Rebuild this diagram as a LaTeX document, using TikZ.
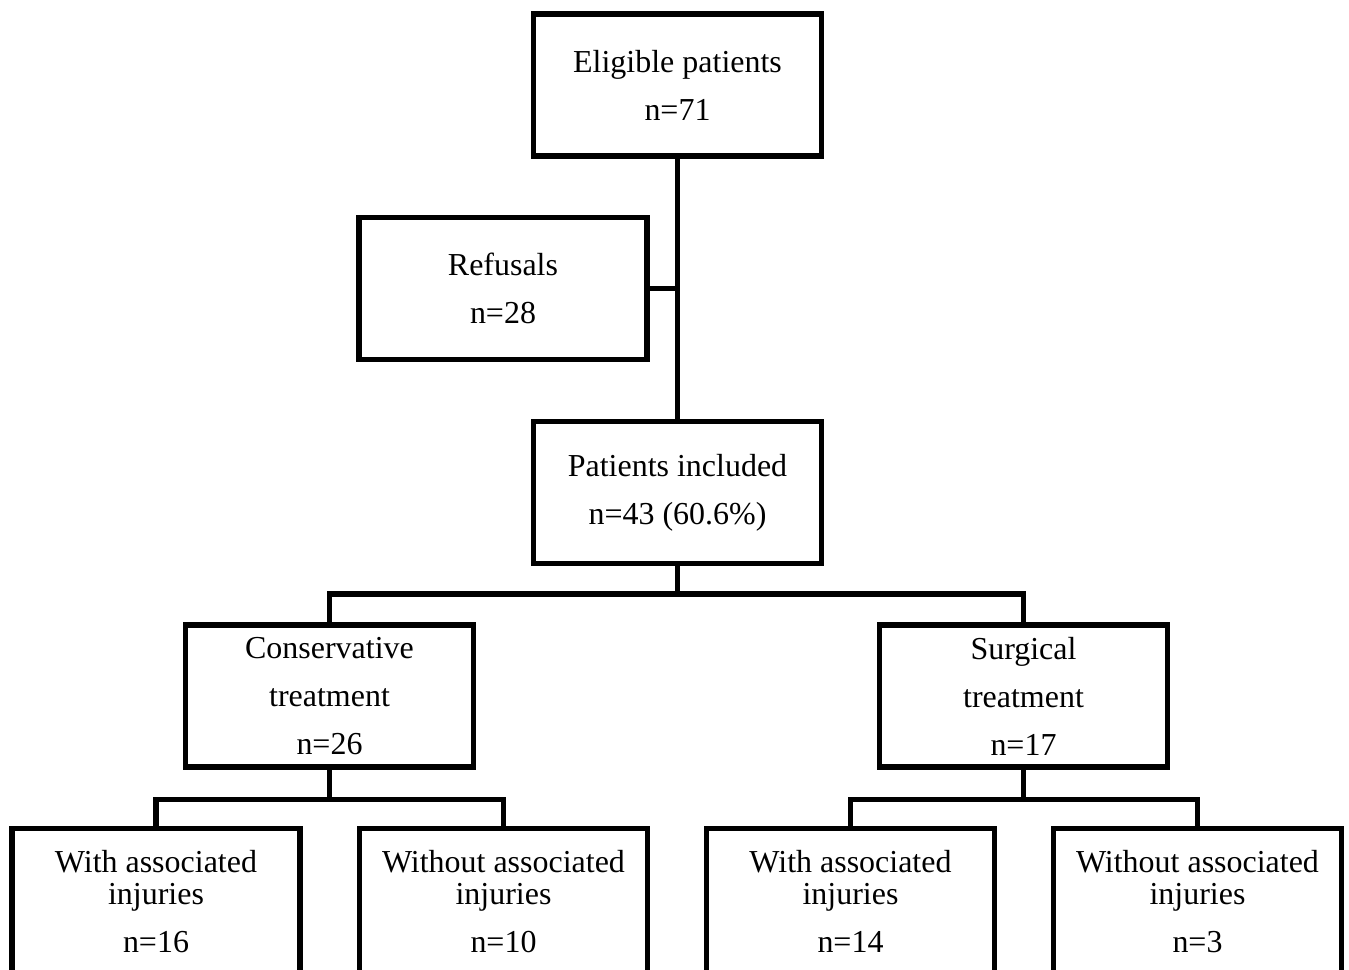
\documentclass[tikz,border=0pt]{standalone}
\usepackage{fontspec}
\setmainfont{Liberation Serif}
\usetikzlibrary{calc}

\begin{document}
\begin{tikzpicture}[x=0.02cm,y=-0.02cm,line width=3pt,
    box/.style={draw,rectangle,line width=3pt,inner sep=0pt,align=center,
        minimum width=5.76cm,minimum height=2.84cm,
        font=\fontsize{18.2}{27.3}\selectfont},
    lowbox/.style={box,minimum height=2.92cm}]
                \useasboundingbox (0,0) rectangle (1349,970);
                \clip (0,0) rectangle (1349,970);

                \node[box] (elig) at (677.5,85) {Eligible patients\\n=71};
                \node[box] (refu) at (503,288.5) {Refusals\\n=28};
                \node[box] (incl) at (677.5,492.5) {Patients included\\n=43 (60.6\%)};
                \node[box] (cons) at (329.5,696) {Conservative\\treatment\\n=26};
                \node[box] (surg) at (1023.5,696) {Surgical\\treatment\\n=17};

                \node[lowbox] (conswith) at (156,901.5) {With associated\\[-9.1pt]injuries\\n=16};
                \node[lowbox] (conswo) at (503.5,901.5) {Without associated\\[-9.1pt]injuries\\n=10};
                \node[lowbox] (surgwith) at (850.5,901.5) {With associated\\[-9.1pt]injuries\\n=14};
                \node[lowbox] (surgwo) at (1197.5,901.5) {Without associated\\[-9.1pt]injuries\\n=3};

                \coordinate (S) at ($(incl.south)+(0,28)$);
                \coordinate (C) at ($(cons.south)+(0,30)$);
                \coordinate (D) at ($(surg.south)+(0,30)$);

                \draw (elig.south) -- (incl.north);
                \draw (refu.east) -- (refu.east -| elig.south);

                \draw (incl.south) -- (S);
                \draw (cons.north) |- (S) -| (surg.north);

                \draw (cons.south) -- (C);
                \draw (conswith.north) |- (C) -| (conswo.north);

                \draw (surg.south) -- (D);
                \draw (surgwith.north) |- (D) -| (surgwo.north);
            \end{tikzpicture}
\end{document}
